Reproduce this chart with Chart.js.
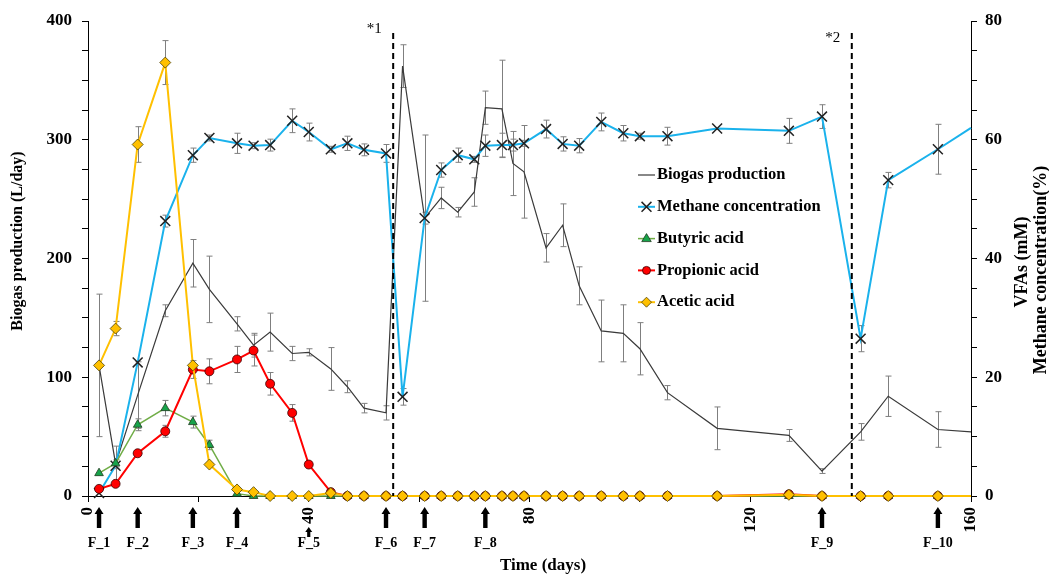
<!DOCTYPE html>
<html>
<head>
<meta charset="utf-8">
<title>Biogas production, methane and VFAs</title>
<script src="https://cdn.jsdelivr.net/npm/chart.js@4.4.1/dist/chart.umd.min.js"></script>
<style>
  body { margin: 0; background: #fff; }
  #grafica { display: block; }
</style>
</head>
<body>
<canvas id="grafica" width="1049" height="574"></canvas>
<script>
// SAMPLING DAYS
const days = [2, 5, 9, 14, 19, 22, 27, 30, 33, 37, 40, 44, 47, 50, 54, 57, 61, 64, 67, 70,
  72, 75, 77, 79, 83, 86, 89, 93, 97, 100, 105, 114, 127, 133, 140, 145, 154, 160];

// BIOGAS PRODUCTION (L/day) AND ERROR
const biogas = [110, 27, 85, 156, 196, 174, 145, 127, 138, 120, 121, 107, 92, 74, 70, 362, 234, 251, 239, 256,
  327, 326, 280, 273, 209, 228, 177, 139, 137, 124, 87, 57, 51, 21, 54, 84, 56, 54];
const biogasErr = [60, 15, 28, 5, 20, 28, 6, 10, 16, 6, 3, 18, 5, 4, 6, 18, 70, 9, 4, 12,
  14, 41, 27, 39, 12, 18, 16, 26, 24, 22, 6, 18, 5, 2, 7, 17, 15, 0];

// METHANE CONCENTRATION (%) AND ERROR
const methane = [0.5, 5.1, 22.5, 46.3, 57.4, 60.3, 59.4, 59.0, 59.1, 63.2, 61.3, 58.4, 59.4, 58.3, 57.7, 16.7, 46.8, 54.9, 57.4, 56.7,
  59.0, 59.1, 59.1, 59.4, 61.8, 59.3, 59.0, 63.0, 61.1, 60.6, 60.6, 61.9, 61.5, 63.9, 26.5, 53.2, 58.4, 62.0];
const methaneErr = [0, 0.5, 0, 1, 1.2, 0.5, 1.7, 0.5, 1, 2, 1.5, 0.5, 1.2, 1, 1.5, 1.4, 1, 1.2, 1.2, 0.5,
  1.8, 2, 1, 0.5, 1.5, 1.2, 1.2, 1.5, 1.3, 0.5, 1.5, 0, 2.1, 2, 2.2, 1.3, 4.2, 0];

// VFAs (mM) AND ERROR
const butyric = [3.85, 5.5, 12.0, 14.8, 12.45, 8.6, 0.4, 0, 0, 0, 0, 0, 0, 0, 0, 0, 0, 0, 0, 0,
  0, 0, 0, 0, 0, 0, 0, 0, 0, 0, 0, 0, 0, 0, 0, 0, 0, 0];
const butyricErr = [0, 0.6, 1, 1.3, 1, 0.8, 0, 0, 0, 0, 0, 0, 0, 0, 0, 0, 0, 0, 0, 0,
  0, 0, 0, 0, 0, 0, 0, 0, 0, 0, 0, 0, 0, 0, 0, 0, 0, 0];
const propionic = [1.2, 2.05, 7.2, 10.9, 21.3, 21.0, 23.0, 24.5, 18.9, 14.0, 5.3, 0.65, 0, 0, 0, 0, 0, 0, 0, 0,
  0, 0, 0, 0, 0, 0, 0, 0, 0, 0, 0, 0, 0.3, 0, 0, 0, 0, 0];
const propionicErr = [0, 0, 0, 1, 1.5, 2.1, 2.2, 2.6, 1.9, 1.4, 0, 0, 0, 0, 0, 0, 0, 0, 0, 0,
  0, 0, 0, 0, 0, 0, 0, 0, 0, 0, 0, 0, 0, 0, 0, 0, 0, 0];
const acetic = [22.0, 28.2, 59.2, 73.0, 22.0, 5.3, 1.1, 0.65, 0, 0, 0, 0.5, 0, 0, 0, 0, 0, 0, 0, 0,
  0, 0, 0, 0, 0, 0, 0, 0, 0, 0, 0, 0, 0.2, 0, 0, 0, 0, 0];
const aceticErr = [0, 1.2, 3, 3.7, 0, 0, 0, 0, 0, 0, 0, 0, 0, 0, 0, 0, 0, 0, 0, 0,
  0, 0, 0, 0, 0, 0, 0, 0, 0, 0, 0, 0, 0, 0, 0, 0, 0, 0];

// FEEDING DAYS AND EVENTS
const feedDays = [2, 9, 19, 27, 40, 54, 61, 72, 133, 154];
const feedLabels = ['F_1', 'F_2', 'F_3', 'F_4', 'F_5', 'F_6', 'F_7', 'F_8', 'F_9', 'F_10'];
const eventDays = [55.3, 138.4];
const eventLabels = ['*1', '*2'];

// AXIS TICKS
const xTickLabels = [0, 40, 80, 120, 160];
const yTickLabels = [0, 100, 200, 300, 400];
const y2TickLabels = [0, 20, 40, 60, 80];

const serif = "'Liberation Serif', 'Times New Roman', serif";
const lastDay = days[days.length - 1];

const toPoints = (values) => days.map((d, i) => ({ x: d, y: values[i] }));
const markerRadius = (r) => (ctx) => (ctx.raw && ctx.raw.x === lastDay ? 0 : r);

// DRAW ONE MARKER (USED BY THE LEGEND)
const drawMarker = (ctx, style, x, y, r, fill, stroke) => {
  ctx.save();
  ctx.fillStyle = fill;
  ctx.strokeStyle = stroke;
  ctx.lineWidth = 0.8;
  ctx.beginPath();
  if (style === 'crossRot') {
    const d = r * Math.SQRT1_2;
    ctx.lineWidth = 1.5;
    ctx.moveTo(x - d, y - d); ctx.lineTo(x + d, y + d);
    ctx.moveTo(x - d, y + d); ctx.lineTo(x + d, y - d);
    ctx.stroke();
  } else if (style === 'triangle') {
    ctx.moveTo(x, y - r);
    ctx.lineTo(x + r * 0.95, y + r * 0.6);
    ctx.lineTo(x - r * 0.95, y + r * 0.6);
    ctx.closePath();
    ctx.fill(); ctx.stroke();
  } else if (style === 'circle') {
    ctx.arc(x, y, r, 0, Math.PI * 2);
    ctx.fill(); ctx.stroke();
  } else if (style === 'rectRot') {
    ctx.moveTo(x, y - r); ctx.lineTo(x + r, y); ctx.lineTo(x, y + r); ctx.lineTo(x - r, y);
    ctx.closePath();
    ctx.fill(); ctx.stroke();
  }
  ctx.restore();
};

// PLUGIN THAT DRAWS THE ERROR BARS BEHIND THE SERIES
const errorBarsPlugin = {
  id: 'errorBars',
  beforeDatasetsDraw(chart) {
    const ctx = chart.ctx;
    const xScale = chart.scales.x;
    ctx.save();
    ctx.strokeStyle = '#7f7f7f';
    ctx.lineWidth = 1;
    chart.data.datasets.forEach((ds) => {
      if (!ds.errors) return;
      const yScale = chart.scales[ds.yAxisID];
      ds.data.forEach((p, j) => {
        const e = ds.errors[j];
        if (!e) return;
        const x = Math.round(xScale.getPixelForValue(p.x)) + 0.5;
        const yTop = yScale.getPixelForValue(p.y + e);
        const yBot = yScale.getPixelForValue(p.y - e);
        ctx.beginPath();
        ctx.moveTo(x, yTop); ctx.lineTo(x, yBot);
        ctx.moveTo(x - 3, yTop); ctx.lineTo(x + 3, yTop);
        ctx.moveTo(x - 3, yBot); ctx.lineTo(x + 3, yBot);
        ctx.stroke();
      });
    });
    ctx.restore();
  }
};

// PLUGIN WITH EVENT LINES, FEED ARROWS, TITLES AND LEGEND
const annotationsPlugin = {
  id: 'annotations',
  afterDraw(chart) {
    const ctx = chart.ctx;
    const area = chart.chartArea;
    const xScale = chart.scales.x;
    ctx.save();

    // dashed event lines
    const eventLabelY = [29, 38];
    eventDays.forEach((d, i) => {
      const x = xScale.getPixelForValue(d);
      ctx.strokeStyle = '#000';
      ctx.lineWidth = 2;
      ctx.setLineDash([6, 4]);
      ctx.beginPath();
      ctx.moveTo(x, area.top + 12);
      ctx.lineTo(x, area.bottom);
      ctx.stroke();
      ctx.setLineDash([]);
      ctx.fillStyle = '#000';
      ctx.font = `15px ${serif}`;
      ctx.textAlign = 'center';
      ctx.textBaseline = 'middle';
      ctx.fillText(eventLabels[i], x - 19, eventLabelY[i]);
    });

    // feed arrows under the x axis
    feedDays.forEach((d, i) => {
      const x = xScale.getPixelForValue(d);
      const small = xTickLabels.includes(d);
      const tip = small ? area.bottom + 31 : area.bottom + 11;
      const head = small ? 5 : 7;
      const base = small ? area.bottom + 41 : area.bottom + 32;
      const hw = small ? 3.5 : 4.5;
      const sw = small ? 1.6 : 2.2;
      ctx.fillStyle = '#000';
      ctx.beginPath();
      ctx.moveTo(x, tip);
      ctx.lineTo(x + hw, tip + head);
      ctx.lineTo(x + sw, tip + head);
      ctx.lineTo(x + sw, base);
      ctx.lineTo(x - sw, base);
      ctx.lineTo(x - sw, tip + head);
      ctx.lineTo(x - hw, tip + head);
      ctx.closePath();
      ctx.fill();
      ctx.font = `bold 14px ${serif}`;
      ctx.textAlign = 'center';
      ctx.textBaseline = 'middle';
      ctx.fillText(feedLabels[i], x, area.bottom + 47);
    });

    // axis titles
    ctx.fillStyle = '#000';
    ctx.textAlign = 'center';
    ctx.textBaseline = 'middle';
    ctx.font = `bold 17px ${serif}`;
    ctx.fillText('Time (days)', 543, 566);

    ctx.save();
    ctx.translate(18, 241);
    ctx.rotate(-Math.PI / 2);
    ctx.font = `bold 16px ${serif}`;
    ctx.fillText('Biogas production (L/day)', 0, 0);
    ctx.restore();

    ctx.save();
    ctx.translate(1022, 262);
    ctx.rotate(-Math.PI / 2);
    ctx.font = `bold 18px ${serif}`;
    ctx.fillText('VFAs (mM)', 0, 0);
    ctx.restore();

    ctx.save();
    ctx.translate(1041, 270);
    ctx.rotate(-Math.PI / 2);
    ctx.font = `bold 18px ${serif}`;
    ctx.fillText('Methane concentration(%)', 0, 0);
    ctx.restore();

    // legend
    const legendOrder = [4, 3, 2, 1, 0];
    legendOrder.forEach((idx, row) => {
      const ds = chart.data.datasets[idx];
      const y = 175 + row * 31.8;
      ctx.strokeStyle = ds.borderColor;
      ctx.lineWidth = ds.borderWidth;
      ctx.beginPath();
      ctx.moveTo(638, y);
      ctx.lineTo(655, y);
      ctx.stroke();
      if (ds.legendMarker) {
        drawMarker(ctx, ds.pointStyle, 646.5, y, ds.legendMarker, ds.pointBackgroundColor, ds.pointBorderColor);
      }
      ctx.fillStyle = '#000';
      ctx.font = `bold 16.5px ${serif}`;
      ctx.textAlign = 'left';
      ctx.textBaseline = 'middle';
      ctx.fillText(ds.label, 657, y);
    });

    ctx.restore();
  }
};

const tickFont = { family: serif, size: 17, weight: 'bold' };

const config = {
  type: 'line',
  data: {
    datasets: [
      {
        label: 'Acetic acid', data: toPoints(acetic), errors: aceticErr, yAxisID: 'y2',
        borderColor: '#FFC000', borderWidth: 2, pointStyle: 'rectRot', pointRadius: markerRadius(5.5),
        pointBackgroundColor: '#FFC000', pointBorderColor: '#4d4000', pointBorderWidth: 0.8, legendMarker: 5
      },
      {
        label: 'Propionic acid', data: toPoints(propionic), errors: propionicErr, yAxisID: 'y2',
        borderColor: '#FF0000', borderWidth: 2, pointStyle: 'circle', pointRadius: markerRadius(4.5),
        pointBackgroundColor: '#FF0000', pointBorderColor: '#3a0000', pointBorderWidth: 0.8, legendMarker: 4
      },
      {
        label: 'Butyric acid', data: toPoints(butyric), errors: butyricErr, yAxisID: 'y2',
        borderColor: '#70AD47', borderWidth: 1.5, pointStyle: 'triangle', pointRadius: markerRadius(5),
        pointBackgroundColor: '#17A34A', pointBorderColor: '#1e3a1e', pointBorderWidth: 0.8, legendMarker: 5
      },
      {
        label: 'Methane concentration', data: toPoints(methane), errors: methaneErr, yAxisID: 'y2',
        borderColor: '#1AB2EC', borderWidth: 2, pointStyle: 'crossRot', pointRadius: markerRadius(7),
        pointBackgroundColor: '#222', pointBorderColor: '#222', pointBorderWidth: 1.5, legendMarker: 7
      },
      {
        label: 'Biogas production', data: toPoints(biogas), errors: biogasErr, yAxisID: 'y',
        borderColor: '#3a3a3a', borderWidth: 1.2, pointRadius: 0, legendMarker: 0
      }
    ]
  },
  options: {
    responsive: false,
    animation: false,
    events: [],
    devicePixelRatio: 1,
    layout: { padding: { top: 21, left: 0, right: 0, bottom: 0 } },
    datasets: { line: { tension: 0, clip: false, fill: false } },
    plugins: { legend: { display: false }, tooltip: { enabled: false } },
    scales: {
      x: {
        type: 'linear', min: 0, max: 160,
        afterFit: (scale) => { scale.height = 78; },
        ticks: {
          stepSize: 20, autoSkip: false, minRotation: 90, maxRotation: 90, padding: 5,
          color: '#000', font: tickFont,
          callback: (v) => (xTickLabels.includes(v) ? v : '')
        },
        grid: { drawOnChartArea: false, tickLength: 6, color: '#000' },
        border: { color: '#000' }
      },
      y: {
        position: 'left', min: 0, max: 400,
        afterFit: (scale) => { scale.width = 88; },
        ticks: {
          stepSize: 25, autoSkip: false, padding: 10, color: '#000', font: tickFont,
          callback: (v) => (yTickLabels.includes(v) ? v : '')
        },
        grid: { drawOnChartArea: false, tickLength: 6, color: '#000' },
        border: { color: '#000' }
      },
      y2: {
        position: 'right', min: 0, max: 80,
        afterFit: (scale) => { scale.width = 78; },
        ticks: {
          stepSize: 5, autoSkip: false, padding: 8, color: '#000', font: tickFont,
          callback: (v) => (y2TickLabels.includes(v) ? v : '')
        },
        grid: { drawOnChartArea: false, tickLength: 6, color: '#000' },
        border: { color: '#000' }
      }
    }
  },
  plugins: [errorBarsPlugin, annotationsPlugin]
};

new Chart(document.getElementById('grafica'), config);
</script>
</body>
</html>
